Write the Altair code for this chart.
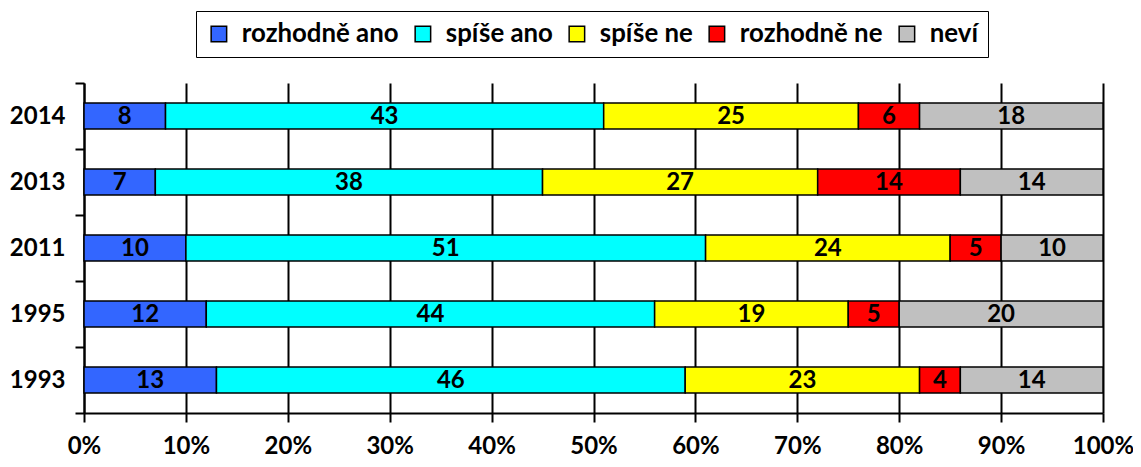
import altair as alt
import pandas as pd

years = ["2014", "2013", "2011", "1995", "1993"]
categories = ["rozhodně ano", "spíše ano", "spíše ne", "rozhodně ne", "neví"]
colors = ["#3366FF", "#00FFFF", "#FFFF00", "#FF0000", "#C0C0C0"]
v_rozhodne_ano = [8, 7, 10, 12, 13]
v_spise_ano = [43, 38, 51, 44, 46]
v_spise_ne = [25, 27, 24, 19, 23]
v_rozhodne_ne = [6, 14, 5, 5, 4]
v_nevi = [18, 14, 10, 20, 14]

series = [v_rozhodne_ano, v_spise_ano, v_spise_ne, v_rozhodne_ne, v_nevi]
rows = []
for ci, (cat, vals) in enumerate(zip(categories, series)):
    for yr, v in zip(years, vals):
        rows.append({"year": yr, "category": cat, "order": ci, "value": v})
df = pd.DataFrame(rows)

FONT = "Lato"

base = alt.Chart(df).transform_stack(
    stack="value", groupby=["year"], as_=["x0", "x1"],
    sort=[alt.SortField("order", order="ascending")]
).transform_calculate(mid="(datum.x0 + datum.x1) / 2")

x_scale = alt.Scale(domain=[0, 100])
x_axis = alt.Axis(values=list(range(0, 101, 10)), labelExpr="datum.value + '%'",
                  grid=True, gridColor="black", gridWidth=2,
                  labelFontSize=24, labelFont=FONT, labelFontWeight="bold",
                  labelColor="black", tickColor="black", tickSize=9, tickWidth=2,
                  domainColor="black", domainWidth=2, labelPadding=12,
                  labelFlush=False, title=None)
y_scale = alt.Scale(paddingInner=0, paddingOuter=0)
y_axis = alt.Axis(tickBand="extent", labelFontSize=24, labelFont=FONT,
                  labelFontWeight="bold", labelColor="black",
                  tickColor="black", tickSize=9, tickWidth=2,
                  domainColor="black", domainWidth=2, labelPadding=10,
                  grid=False, title=None)

bars = base.mark_bar(stroke="black", strokeWidth=1.5, height=26).encode(
    x=alt.X("x0:Q", scale=x_scale, axis=x_axis),
    x2="x1:Q",
    y=alt.Y("year:N", sort=years, scale=y_scale, axis=y_axis),
    color=alt.Color("category:N", sort=categories,
                    scale=alt.Scale(domain=categories, range=colors),
                    legend=alt.Legend(orient="none", legendX=112, legendY=-72,
                                      direction="horizontal", columns=5, title=None,
                                      labelFontSize=25.8, labelFont=FONT,
                                      labelFontWeight="bold", labelColor="black",
                                      symbolType="square", symbolSize=240,
                                      symbolStrokeColor="black", symbolStrokeWidth=1.5,
                                      strokeColor="black", padding=10,
                                      columnPadding=11, labelOffset=10,
                                      labelLimit=300)),
    order=alt.Order("order:Q"),
)

labels = base.mark_text(font=FONT, fontSize=24, fontWeight="bold", color="black",
                        baseline="middle", dy=1).encode(
    x=alt.X("mid:Q", scale=x_scale, axis=x_axis),
    y=alt.Y("year:N", sort=years, scale=y_scale, axis=y_axis),
    text="value:Q",
)

chart = (bars + labels).properties(
    width=1019, height=330,
    autosize=alt.AutoSizeParams(type="none"),
    padding={"left": 76, "top": 75, "right": 30, "bottom": 46},
).configure_view(stroke=None)

chart.save("out.html", embed_options={"renderer": "svg", "actions": False})
